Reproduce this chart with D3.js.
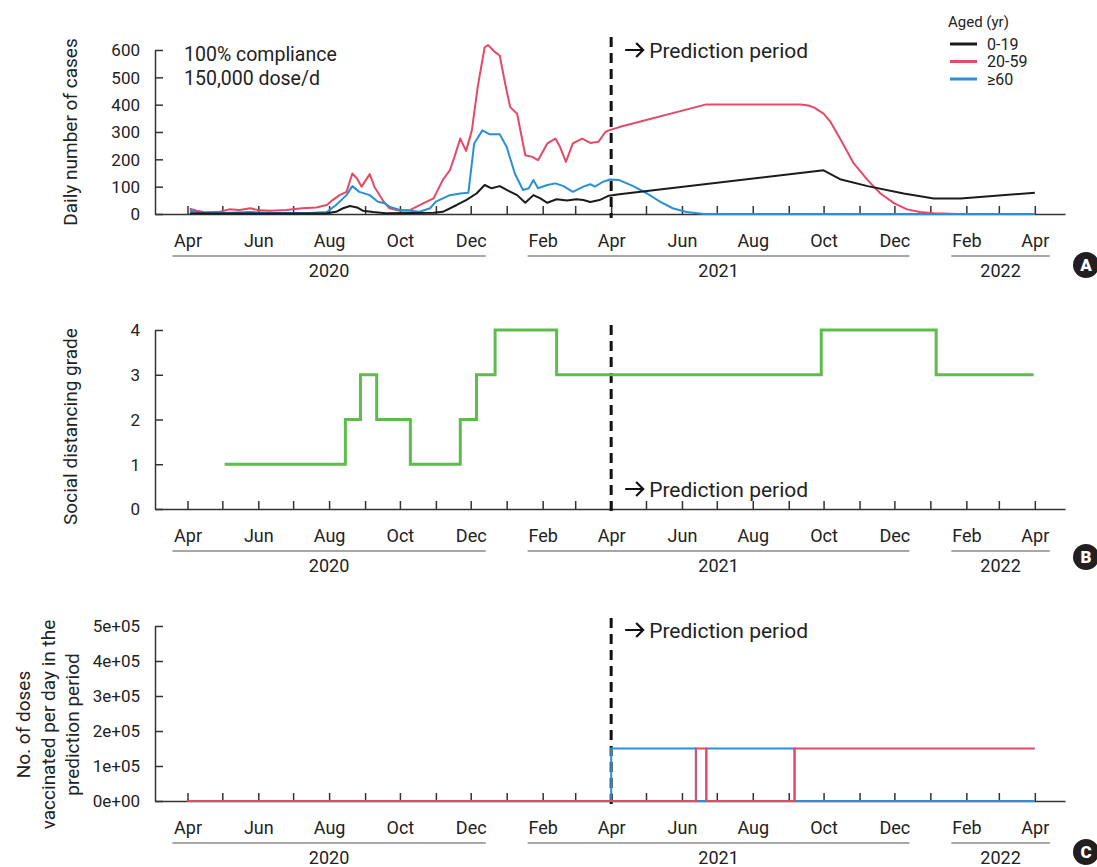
<!DOCTYPE html>
<html>
<head>
<meta charset="utf-8">
<script src="https://cdn.jsdelivr.net/npm/d3@7"></script>
<style>
  body { margin: 0; background: #fff; }
  svg { display: block; font-family: Roboto, "Open Sans", sans-serif; }
</style>
</head>
<body>
<svg id="chart" width="1097" height="867"></svg>
<script>
// ---- Daten ----
// A: tägliche Fallzahlen nach Altersgruppe
const cases0to19 = [
  ["2020-04-03", 3], ["2020-05-01", 2], ["2020-06-01", 2], ["2020-07-01", 2], ["2020-07-30", 3],
  ["2020-08-07", 8], ["2020-08-13", 21], ["2020-08-19", 29], ["2020-08-25", 24], ["2020-08-30", 12],
  ["2020-09-08", 7], ["2020-09-19", 3], ["2020-10-10", 4], ["2020-10-30", 5], ["2020-11-07", 8],
  ["2020-11-19", 33], ["2020-11-27", 51], ["2020-12-06", 75], ["2020-12-13", 106], ["2020-12-19", 94],
  ["2020-12-26", 102], ["2021-01-01", 88], ["2021-01-10", 69], ["2021-01-17", 41], ["2021-01-24", 69],
  ["2021-01-30", 57], ["2021-02-05", 41], ["2021-02-13", 54], ["2021-02-22", 49], ["2021-03-02", 54],
  ["2021-03-08", 51], ["2021-03-14", 44], ["2021-03-22", 51], ["2021-03-30", 67], ["2021-04-08", 72],
  ["2021-10-01", 160], ["2021-10-16", 126], ["2021-11-08", 102], ["2021-12-09", 75], ["2022-01-04", 57],
  ["2022-01-27", 57], ["2022-04-01", 78]
];
const cases20to59 = [
  ["2020-04-03", 19], ["2020-04-09", 12], ["2020-04-17", 6], ["2020-04-29", 8], ["2020-05-07", 17],
  ["2020-05-16", 15], ["2020-05-25", 21], ["2020-05-31", 15], ["2020-06-11", 12], ["2020-06-25", 15],
  ["2020-07-09", 21], ["2020-07-21", 24], ["2020-07-30", 33], ["2020-08-04", 51], ["2020-08-10", 69],
  ["2020-08-16", 81], ["2020-08-21", 148], ["2020-08-25", 130], ["2020-08-29", 100], ["2020-09-05", 146],
  ["2020-09-09", 100], ["2020-09-17", 45], ["2020-09-22", 21], ["2020-10-01", 12], ["2020-10-10", 15],
  ["2020-10-21", 39], ["2020-10-30", 57], ["2020-11-07", 125], ["2020-11-13", 160], ["2020-11-17", 209],
  ["2020-11-22", 276], ["2020-11-27", 231], ["2020-12-02", 306], ["2020-12-07", 464], ["2020-12-13", 610],
  ["2020-12-16", 618], ["2020-12-22", 592], ["2020-12-26", 580], ["2020-12-31", 470], ["2021-01-04", 391],
  ["2021-01-10", 367], ["2021-01-17", 215], ["2021-01-23", 209], ["2021-01-28", 197], ["2021-02-05", 258],
  ["2021-02-12", 276], ["2021-02-16", 245], ["2021-02-21", 191], ["2021-02-27", 258], ["2021-03-07", 276],
  ["2021-03-14", 260], ["2021-03-21", 264], ["2021-03-27", 300], ["2021-03-30", 306], ["2021-04-08", 318],
  ["2021-06-22", 401], ["2021-09-11", 401], ["2021-09-18", 397], ["2021-09-23", 389], ["2021-10-01", 367],
  ["2021-10-07", 337], ["2021-10-16", 270], ["2021-10-27", 185], ["2021-11-08", 124], ["2021-11-19", 75],
  ["2021-12-01", 39], ["2021-12-12", 17], ["2021-12-23", 7], ["2022-01-04", 3], ["2022-01-24", 0],
  ["2022-04-01", 0]
];
const cases60plus = [
  ["2020-04-03", 12], ["2020-04-14", 5], ["2020-05-01", 4], ["2020-05-25", 7], ["2020-06-15", 4],
  ["2020-07-15", 4], ["2020-07-30", 7], ["2020-08-07", 33], ["2020-08-16", 69], ["2020-08-21", 102],
  ["2020-08-27", 81], ["2020-09-05", 69], ["2020-09-12", 45], ["2020-09-18", 39], ["2020-09-22", 27],
  ["2020-10-01", 15], ["2020-10-10", 12], ["2020-10-18", 8], ["2020-10-27", 21], ["2020-11-01", 45],
  ["2020-11-13", 69], ["2020-11-22", 75], ["2020-11-29", 78], ["2020-12-04", 258], ["2020-12-11", 306],
  ["2020-12-17", 292], ["2020-12-26", 292], ["2021-01-01", 245], ["2021-01-08", 148], ["2021-01-15", 88],
  ["2021-01-20", 94], ["2021-01-24", 124], ["2021-01-28", 94], ["2021-02-05", 106], ["2021-02-12", 112],
  ["2021-02-19", 102], ["2021-02-27", 81], ["2021-03-08", 100], ["2021-03-14", 109], ["2021-03-18", 100],
  ["2021-03-25", 118], ["2021-03-31", 126], ["2021-04-08", 124], ["2021-04-20", 102], ["2021-05-02", 75],
  ["2021-05-13", 45], ["2021-05-24", 21], ["2021-06-05", 7], ["2021-06-20", 0], ["2022-04-01", 0]
];

// B: Stufe der sozialen Distanzierung (gilt ab Datum)
const distancingDates = ["2020-05-03", "2020-08-15", "2020-08-28", "2020-09-11", "2020-10-10", "2020-11-22",
  "2020-12-06", "2020-12-22", "2021-02-13", "2021-09-29", "2022-01-06", "2022-03-31"];
const distancingGrade = [1, 2, 3, 2, 1, 2, 3, 4, 3, 4, 3, 3];

// C: Impfdosen pro Tag (gilt ab Datum)
const doseDates = ["2020-04-01", "2021-04-01", "2021-06-13", "2021-06-22", "2021-09-06", "2022-04-01"];
const doses20to59 = [0, 0, 150000, 0, 150000, 150000];
const doses60plus = [0, 150000, 0, 150000, 0, 0];

// Achsen / Beschriftungen
const caseTicks = [0, 100, 200, 300, 400, 500, 600];
const gradeTicks = [0, 1, 2, 3, 4];
const doseTicks = [0, 100000, 200000, 300000, 400000, 500000];
const yearLabels = ["2020", "2021", "2022"];
const ageGroups = ["0-19", "20-59", "\u226560"];
const predictionStart = "2021-04-01";

// ---- Aufbau ----
const COLORS = { "0-19": "#1b1b1b", "20-59": "#e34a66", "\u226560": "#2b8fd8", grade: "#5dbd4b" };
const AXIS = "#333";
const parse = d3.timeParse("%Y-%m-%d");
const svg = d3.select("#chart");

const x = d3.scaleTime()
  .domain([parse("2020-03-04"), parse("2022-04-27")])
  .range([155, 1065]);

const monthTicks = d3.timeMonth.range(parse("2020-04-01"), parse("2022-04-02"));
const labelMonths = monthTicks.filter(d => d.getMonth() % 2 === 1);
const fmtMonth = d3.timeFormat("%b");

function sci(v) {
  if (v === 0) return "0e+00";
  const e = Math.floor(Math.log10(v));
  return `${Math.round(v / Math.pow(10, e))}e+${String(e).padStart(2, "0")}`;
}

function drawPanel(p) {
  const g = svg.append("g");
  const y = d3.scaleLinear().domain(p.domain).range([p.bottom, p.top]);

  // x-Achse
  const xAxis = d3.axisBottom(x)
    .tickValues(monthTicks)
    .tickSize(-8).tickSizeOuter(0).tickPadding(20)
    .tickFormat(d => d.getMonth() % 2 === 1 ? fmtMonth(d) : "");
  const gx = g.append("g").attr("transform", `translate(0,${p.bottom})`).call(xAxis);

  // y-Achse
  const yAxis = d3.axisLeft(y)
    .tickValues(p.ticks)
    .tickSize(-8).tickSizeOuter(0).tickPadding(15)
    .tickFormat(p.fmt);
  const gy = g.append("g").attr("transform", `translate(${x.range()[0]},0)`).call(yAxis);

  [gx, gy].forEach(a => {
    a.attr("font-family", null).attr("font-size", null);
    a.selectAll("path, line").attr("stroke", AXIS).attr("stroke-width", 1.5);
    a.selectAll("text").attr("fill", "#222");
  });
  gx.selectAll("text").attr("font-size", 18);
  gy.selectAll("text").attr("font-size", 17).attr("dy", "0.34em");

  // Jahresgruppen unter den Monaten
  yearLabels.forEach(yr => {
    const ms = labelMonths.filter(d => d.getFullYear() === +yr);
    const x0 = x(ms[0]) - 15, x1 = x(ms[ms.length - 1]) + 15;
    g.append("line")
      .attr("x1", x0).attr("x2", x1)
      .attr("y1", p.bottom + 42).attr("y2", p.bottom + 42)
      .attr("stroke", "#8a8a8a").attr("stroke-width", 1.5);
    g.append("text")
      .attr("x", (x0 + x1) / 2).attr("y", p.bottom + 63)
      .attr("text-anchor", "middle").attr("font-size", 18).attr("fill", "#222")
      .text(yr);
  });

  // y-Titel
  const title = g.append("text")
    .attr("transform", `translate(${p.titleX},${(p.top + p.bottom) / 2 + p.titleDy}) rotate(-90)`)
    .attr("text-anchor", "middle").attr("font-size", 19).attr("fill", "#222");
  p.title.forEach((t, i) => {
    title.append("tspan").attr("x", 0).attr("dy", i === 0 ? `${-(p.title.length - 1) * 0.65 + 0.35}em` : "1.3em").text(t);
  });

  // Beginn der Vorhersageperiode
  const xp = x(parse(predictionStart));
  g.append("line")
    .attr("x1", xp).attr("x2", xp)
    .attr("y1", p.dashTop).attr("y2", p.bottom + 4)
    .attr("stroke", "#111").attr("stroke-width", 3).attr("stroke-dasharray", "10,6");
  const ay = p.predY - 8;
  g.append("path")
    .attr("d", `M${xp + 14},${ay}H${xp + 32}M${xp + 25},${ay - 7}L${xp + 32},${ay}L${xp + 25},${ay + 7}`)
    .attr("fill", "none").attr("stroke", "#111").attr("stroke-width", 2.2);
  g.append("text")
    .attr("x", xp + 38).attr("y", p.predY)
    .attr("font-size", 21).attr("fill", "#222")
    .text("Prediction period");

  // Panel-Kennung
  const badge = g.append("g").attr("transform", `translate(1086,${p.badgeY})`);
  badge.append("circle").attr("r", 13).attr("fill", "#231f20");
  badge.append("text").attr("text-anchor", "middle").attr("dy", "0.36em")
    .attr("font-size", 17).attr("font-weight", 900).attr("fill", "#fff").text(p.id);

  return { g, y };
}

const toPoints = rows => rows.map(([d, v]) => ({ date: parse(d), value: v }));

// ---- A ----
const A = drawPanel({
  id: "A", top: 50, bottom: 214, dashTop: 37, domain: [0, 600], ticks: caseTicks, fmt: d3.format("d"),
  title: ["Daily number of cases"], titleX: 70, titleDy: 0, predY: 58, badgeY: 265
});
const lineA = d3.line().x(d => x(d.date)).y(d => A.y(d.value));
const seriesA = [
  { key: "20-59", rows: cases20to59 },
  { key: "\u226560", rows: cases60plus },
  { key: "0-19", rows: cases0to19 }
];
seriesA.forEach(s => {
  A.g.append("path").datum(toPoints(s.rows))
    .attr("d", lineA).attr("fill", "none")
    .attr("stroke", COLORS[s.key]).attr("stroke-width", 2).attr("stroke-linejoin", "round");
});

A.g.append("text").attr("x", 184).attr("y", 61).attr("font-size", 19.5).attr("fill", "#222").text("100% compliance");
A.g.append("text").attr("x", 184).attr("y", 85).attr("font-size", 19.5).attr("fill", "#222").text("150,000 dose/d");

// Legende
const legend = A.g.append("g").attr("transform", "translate(948,0)");
legend.append("text").attr("x", 0).attr("y", 27).attr("font-size", 15).attr("fill", "#222").text("Aged (yr)");
ageGroups.forEach((k, i) => {
  const ly = 44 + i * 17.5;
  legend.append("line").attr("x1", 2).attr("x2", 29).attr("y1", ly).attr("y2", ly)
    .attr("stroke", COLORS[k]).attr("stroke-width", 3);
  legend.append("text").attr("x", 39).attr("y", ly).attr("dy", "0.35em")
    .attr("font-size", 16).attr("fill", "#222").text(k);
});

// ---- B ----
const B = drawPanel({
  id: "B", top: 330, bottom: 509, dashTop: 325, domain: [0, 4], ticks: gradeTicks, fmt: d3.format("d"),
  title: ["Social distancing grade"], titleX: 70, titleDy: 7, predY: 497, badgeY: 557
});
const gradeData = distancingDates.map((d, i) => ({ date: parse(d), value: distancingGrade[i] }));
B.g.append("path").datum(gradeData)
  .attr("d", d3.line().curve(d3.curveStepAfter).x(d => x(d.date)).y(d => B.y(d.value)))
  .attr("fill", "none").attr("stroke", COLORS.grade).attr("stroke-width", 3);

// ---- C ----
const C = drawPanel({
  id: "C", top: 626, bottom: 801, dashTop: 618, domain: [0, 500000], ticks: doseTicks, fmt: sci,
  title: ["No. of doses", "vaccinated per day in the", "prediction period"], titleX: 48, titleDy: 11, predY: 638, badgeY: 852
});
const lineC = d3.line().curve(d3.curveStepAfter).x(d => x(d.date)).y(d => C.y(d.value));
[{ key: "\u226560", vals: doses60plus }, { key: "20-59", vals: doses20to59 }].forEach(s => {
  C.g.append("path").datum(doseDates.map((d, i) => ({ date: parse(d), value: s.vals[i] })))
    .attr("d", lineC).attr("fill", "none")
    .attr("stroke", COLORS[s.key]).attr("stroke-width", 2);
});
</script>
</body>
</html>
